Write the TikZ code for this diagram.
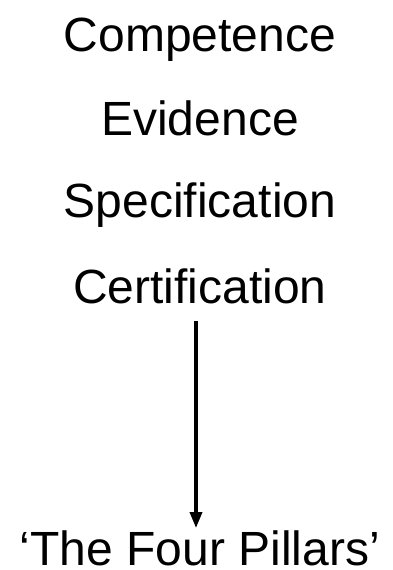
\documentclass[tikz,border=0pt]{standalone}
\usepackage{fontspec}
\setmainfont{Liberation Sans}
\usetikzlibrary{arrows.meta}

\begin{document}
\begin{tikzpicture}[x=1pt,y=-1pt,
        pillar/.style={anchor=base, inner sep=2pt, font=\fontsize{48}{58}\selectfont},
        bigarrow/.style={-{Triangle[length=16pt,width=12pt]}, line width=3.5pt}]
        \useasboundingbox (0,0) rectangle (392,570);

        % the texts
        \node[pillar] (comp) at (200,51) {Competence};
        \node[pillar] (evid) at (200,135) {Evidence};
        \node[pillar] (spec) at (200,217) {Specification};
        \node[pillar] (cert) at (200,303) {Certification};
        \node[pillar] (four) at (200,565) {‘The Four Pillars’};

        % draw the arrow
        \draw[bigarrow, shorten <=15pt] ([xshift=-4pt]cert.south) -- ([xshift=-4pt]four.north);

    \end{tikzpicture}
\end{document}
